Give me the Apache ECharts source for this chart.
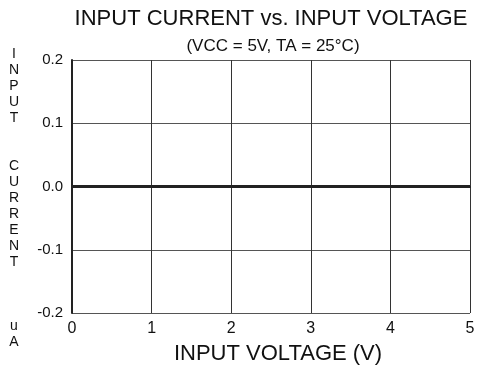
<!DOCTYPE html>
<html>
<head>
<meta charset="utf-8">
<script src="https://cdn.jsdelivr.net/npm/echarts@6/dist/echarts.min.js"></script>
<style>
  html, body { margin: 0; padding: 0; background: #fff; }
  #chart { width: 477px; height: 366px; }
</style>
</head>
<body>
<div id="chart"></div>
<script>
// Input current (uA) measured across the input voltage range (V)
const inputVoltage = [0, 5];
const inputCurrent = [0.0, 0.0];
const xTicks = [0, 1, 2, 3, 4, 5];
const yTicks = [-0.2, -0.1, 0.0, 0.1, 0.2];

const FONT = '"Liberation Sans", Arial, Helvetica, sans-serif';
const chart = echarts.init(document.getElementById('chart'), null, { renderer: 'canvas' });

chart.setOption({
  backgroundColor: '#ffffff',
  animation: false,
  graphic: [
    {
      type: 'text', x: 271, y: 8,
      style: {
        text: 'INPUT CURRENT vs. INPUT VOLTAGE',
        fontFamily: FONT, fontSize: 22, fill: '#111', align: 'center', verticalAlign: 'top'
      }
    },
    {
      type: 'text', x: 273, y: 38,
      style: {
        text: '(VCC = 5V, TA = 25°C)',
        fontFamily: FONT, fontSize: 17, fill: '#111', align: 'center', verticalAlign: 'top'
      }
    },
    {
      type: 'text', x: 14, y: 46,
      style: {
        text: 'I\nN\nP\nU\nT\n\n\nC\nU\nR\nR\nE\nN\nT\n\n\n\nu\nA',
        fontFamily: FONT, fontSize: 14, lineHeight: 16,
        fill: '#111', align: 'center', verticalAlign: 'top'
      }
    }
  ],
  grid: { left: 72, right: 7, top: 60, bottom: 53, outerBoundsMode: 'none', containLabel: false },
  xAxis: {
    type: 'value',
    min: xTicks[0], max: xTicks[xTicks.length - 1], interval: 1,
    name: 'INPUT VOLTAGE (V)', nameLocation: 'middle', nameGap: 30,
    nameTextStyle: { fontFamily: FONT, fontSize: 22, color: '#111', padding: [0, 0, 0, 14] },
    axisLine: { show: true, lineStyle: { color: '#222', width: 2 } },
    axisTick: { show: false },
    axisLabel: { fontFamily: FONT, fontSize: 16, color: '#111', margin: 8 },
    splitLine: { show: true, lineStyle: { color: '#333', width: 1 } }
  },
  yAxis: {
    type: 'value',
    min: yTicks[0], max: yTicks[yTicks.length - 1], interval: 0.1,
    axisLine: { show: true, lineStyle: { color: '#222', width: 2 } },
    axisTick: { show: false },
    axisLabel: {
      fontFamily: FONT, fontSize: 15, color: '#111', margin: 9,
      padding: [0, 0, 4, 0],
      formatter: v => v.toFixed(1)
    },
    splitLine: { show: true, lineStyle: { color: '#555', width: 1 } }
  },
  series: [{
    type: 'line',
    data: inputVoltage.map((v, i) => [v, inputCurrent[i]]),
    symbol: 'none',
    lineStyle: { color: '#222', width: 3 }
  }]
});
</script>
</body>
</html>
